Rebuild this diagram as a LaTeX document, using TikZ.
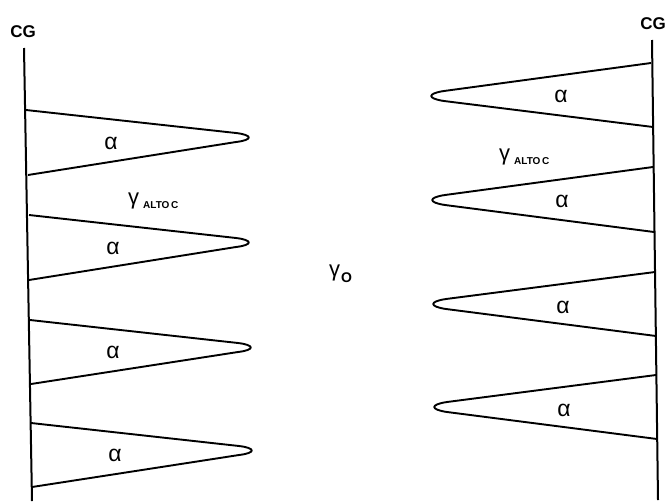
\documentclass[tikz,border=0pt]{standalone}
\usepackage{fontspec}
\setmainfont{Liberation Sans}
\usetikzlibrary{calc}
\tikzset{
  spine/.style={draw, line width=2pt},
  tooth/.style={draw, line width=1.9pt, line join=round},
  cglabel/.style={inner sep=0pt, font=\bfseries\fontsize{17}{18}\selectfont},
  alphalabel/.style={inner sep=0pt, font=\fontsize{23}{24}\selectfont},
  gammalabel/.style={inner sep=0pt, anchor=base west, font=\fontsize{22}{24}\selectfont},
  sublabel/.style={inner sep=0pt, anchor=base west, font=\bfseries\fontsize{10}{12}\selectfont}
}
\begin{document}
\begin{tikzpicture}[x=1pt, y=-1pt]
    \useasboundingbox (0,0) rectangle (669,501);
    % spines
    \coordinate (lefttop) at (24,48);
    \coordinate (leftend) at (32,501);
    \coordinate (righttop) at (652,40);
    \coordinate (rightend) at (658,500);
    \draw[spine] (lefttop) -- (leftend);
    \draw[spine] (righttop) -- (rightend);
    % left teeth
    \foreach \i/\xa/\ya/\xt/\yt/\xb/\yb in {1/26/110/250/137/28/175, 2/29/215/250/242/29/280, 3/30/320/252/347/31/384, 4/31/423/253/450/32/487} {
      \coordinate (ltop\i) at (\xa,\ya);
      \coordinate (ltip\i) at (\xt,\yt);
      \coordinate (lbot\i) at (\xb,\yb);
      \draw[tooth] (ltop\i) -- ($(ltip\i)+(-14,-4)$) .. controls ($(ltip\i)+(3,-2)$) and ($(ltip\i)+(3,3)$) .. ($(ltip\i)+(-14,5)$) -- (lbot\i);
    }
    % right teeth
    \foreach \i/\xa/\ya/\xt/\yt/\xb/\yb in {1/651/63/430/96/653/127, 2/653/167/431/200/654/232, 3/655/272/432/304/656/336, 4/656/375/433/407/657/439} {
      \coordinate (rtop\i) at (\xa,\ya);
      \coordinate (rtip\i) at (\xt,\yt);
      \coordinate (rbot\i) at (\xb,\yb);
      \draw[tooth] (rtop\i) -- ($(rtip\i)+(14,-5)$) .. controls ($(rtip\i)+(-3,-2.5)$) and ($(rtip\i)+(-3,2.5)$) .. ($(rtip\i)+(14,5)$) -- (rbot\i);
    }
    % labels
    \node[cglabel] (cgleft) at (23,32) {CG};
    \node[cglabel] (cgright) at (653,24) {CG};
    \node[alphalabel] (al1) at (111,143) {α};
    \node[alphalabel] (al2) at (113,248) {α};
    \node[alphalabel] (al3) at (113,352) {α};
    \node[alphalabel] (al4) at (115,455) {α};
    \node[alphalabel] (ar1) at (561,96) {α};
    \node[alphalabel] (ar2) at (562,201) {α};
    \node[alphalabel] (ar3) at (563,307) {α};
    \node[alphalabel] (ar4) at (564,410) {α};
    \node[gammalabel] (gl) at (128,204) {γ};
    \node[sublabel] (gls) at (143,208) {ALTO\,C};
    \node[gammalabel] (gr) at (499,160) {γ};
    \node[sublabel] (grs) at (514,164) {ALTO\,C};
    \node[gammalabel] (go) at (329,276) {γ};
    \node[sublabel, font=\bfseries\fontsize{14}{14}\selectfont] (gos) at (341,282) {O};
\end{tikzpicture}
\end{document}
